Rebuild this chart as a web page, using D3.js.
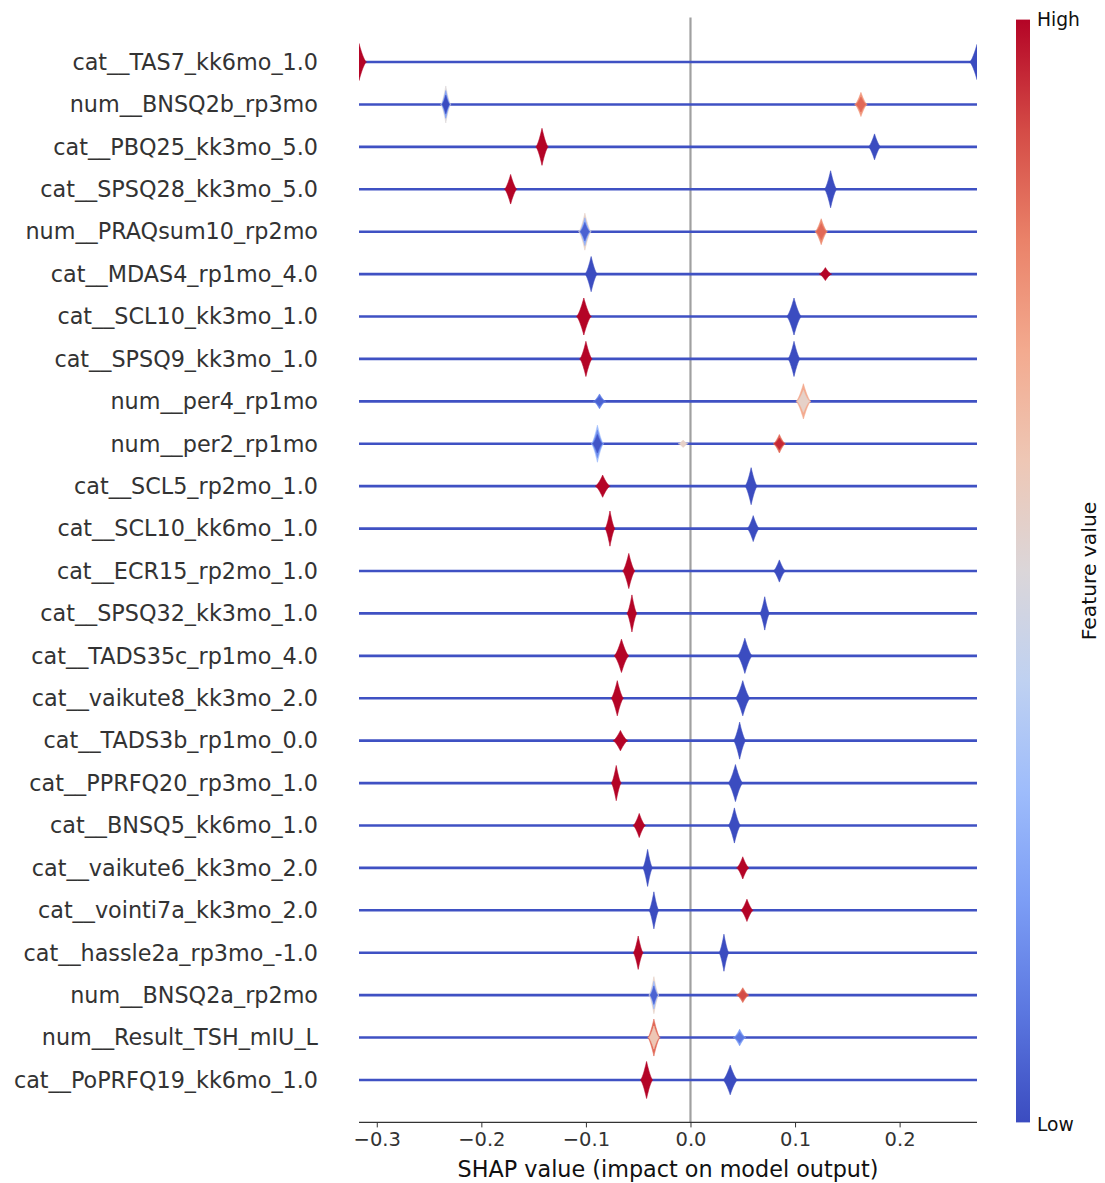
<!DOCTYPE html>
<html>
<head>
<meta charset="utf-8">
<script src="https://cdn.jsdelivr.net/npm/d3@7"></script>
<style>
  body { margin: 0; background: #fff; }
  text { font-family: "DejaVu Sans", sans-serif; }
</style>
</head>
<body>
<div id="chart"></div>
<script>
// feature names, top to bottom
var features = [
    "cat__TAS7_kk6mo_1.0", "num__BNSQ2b_rp3mo", "cat__PBQ25_kk3mo_5.0", "cat__SPSQ28_kk3mo_5.0",
    "num__PRAQsum10_rp2mo", "cat__MDAS4_rp1mo_4.0", "cat__SCL10_kk3mo_1.0", "cat__SPSQ9_kk3mo_1.0",
    "num__per4_rp1mo", "num__per2_rp1mo", "cat__SCL5_rp2mo_1.0", "cat__SCL10_kk6mo_1.0",
    "cat__ECR15_rp2mo_1.0", "cat__SPSQ32_kk3mo_1.0", "cat__TADS35c_rp1mo_4.0", "cat__vaikute8_kk3mo_2.0",
    "cat__TADS3b_rp1mo_0.0", "cat__PPRFQ20_rp3mo_1.0", "cat__BNSQ5_kk6mo_1.0", "cat__vaikute6_kk3mo_2.0",
    "cat__vointi7a_kk3mo_2.0", "cat__hassle2a_rp3mo_-1.0", "num__BNSQ2a_rp2mo", "num__Result_TSH_mIU_L",
    "cat__PoPRFQ19_kk6mo_1.0"
];

// per feature: [shap centre, shap spread, relative density, feature values outer -> inner]
var violins = [
    [[-0.317, 0.006, 1.0, [1]], [0.274, 0.006, 0.95, [0]]],
    [[-0.234, 0.004, 1.0, [0.5, 0.2, 0.0]], [0.163, 0.005, 0.65, [0.75, 0.85]]],
    [[-0.142, 0.005, 1.0, [1]], [0.176, 0.005, 0.7, [0]]],
    [[-0.172, 0.005, 0.8, [1]], [0.134, 0.005, 1.0, [0]]],
    [[-0.101, 0.005, 1.0, [0.55, 0.25, 0.05]], [0.125, 0.005, 0.7, [0.78, 0.85]]],
    [[-0.095, 0.005, 0.95, [0]], [0.129, 0.005, 0.35, [1]]],
    [[-0.102, 0.006, 1.0, [1]], [0.099, 0.006, 1.0, [0]]],
    [[-0.100, 0.005, 0.95, [1]], [0.099, 0.005, 0.95, [0]]],
    [[-0.087, 0.005, 0.4, [0.12, 0.05]], [0.108, 0.006, 0.95, [0.7, 0.55]]],
    [[-0.089, 0.005, 1.0, [0.3, 0.15, 0.02]], [-0.007, 0.004, 0.2, [0.55]], [0.085, 0.005, 0.5, [0.85, 0.95]]],
    [[-0.084, 0.006, 0.6, [1]], [0.058, 0.005, 1.0, [0]]],
    [[-0.077, 0.004, 0.95, [1]], [0.060, 0.005, 0.7, [0]]],
    [[-0.059, 0.005, 0.95, [1]], [0.085, 0.005, 0.6, [0]]],
    [[-0.056, 0.004, 1.0, [1]], [0.071, 0.004, 0.9, [0]]],
    [[-0.066, 0.006, 0.9, [1]], [0.052, 0.006, 0.95, [0]]],
    [[-0.070, 0.005, 0.95, [1]], [0.050, 0.006, 0.95, [0]]],
    [[-0.067, 0.006, 0.55, [1]], [0.047, 0.005, 1.0, [0]]],
    [[-0.071, 0.004, 0.95, [1]], [0.043, 0.006, 1.0, [0]]],
    [[-0.049, 0.005, 0.65, [1]], [0.042, 0.005, 0.95, [0]]],
    [[-0.041, 0.004, 1.0, [0]], [0.050, 0.005, 0.6, [1]]],
    [[-0.035, 0.004, 1.0, [0]], [0.054, 0.005, 0.6, [1]]],
    [[-0.050, 0.004, 0.9, [1]], [0.032, 0.004, 1.0, [0]]],
    [[-0.035, 0.004, 1.0, [0.55, 0.3, 0.05]], [0.050, 0.005, 0.4, [0.85, 0.9]]],
    [[-0.035, 0.005, 1.0, [0.85, 0.6]], [0.047, 0.005, 0.45, [0.2, 0.1]]],
    [[-0.042, 0.005, 1.0, [1]], [0.038, 0.006, 0.8, [0]]]
];

var xDomain = [-0.317, 0.274];
var xTicks = [-0.3, -0.2, -0.1, 0.0, 0.1, 0.2];

function init() {
    var width = 1105;
    var height = 1183;
    var left = 359, right = 977, top = 19.6, bottom = 1122.4;

    // coolwarm-like ramp
    var coolwarm = d3.interpolateRgbBasis(["#3b4cc0", "#6282ea", "#8db0fe", "#b8d0f9", "#dddcdc",
        "#f5c4ac", "#f49a7b", "#de604d", "#b40426"]);

    var svg = d3.select("#chart").append("svg")
        .attr("width", width)
        .attr("height", height);

    var x = d3.scaleLinear().domain(xDomain).range([left, right]);
    // rows placed like matplotlib: ylim -1..n
    var y = d3.scaleLinear().domain([-1, features.length]).range([bottom, top]);
    var rowY = function (i) { return y(features.length - 1 - i); };

    svg.append("defs").append("clipPath").attr("id", "plotclip")
        .append("rect").attr("x", left).attr("y", top)
        .attr("width", right - left).attr("height", bottom - top);

    // zero line
    svg.append("line")
        .attr("x1", x(0)).attr("x2", x(0))
        .attr("y1", top - 2).attr("y2", bottom)
        .attr("stroke", "#a0a0a0").attr("stroke-width", 2.2);

    var plot = svg.append("g").attr("clip-path", "url(#plotclip)");

    // thin full-range band per feature
    plot.selectAll(".band")
        .data(features)
        .enter().append("line")
        .attr("class", "band")
        .attr("x1", left).attr("x2", right)
        .attr("y1", function (d, i) { return rowY(i); })
        .attr("y2", function (d, i) { return rowY(i); })
        .attr("stroke", "#3f51c3").attr("stroke-width", 2.6);

    var maxH = 18.5;
    var ts = d3.range(-1, 1.0001, 0.05);
    function profile(t) { return Math.pow(1 - Math.abs(t), 1.5); }

    violins.forEach(function (row, i) {
        var cy = rowY(i);
        row.forEach(function (v) {
            var layers = v[3];
            layers.forEach(function (f, k) {
                var scale = 1 - k / layers.length * 0.75;
                var area = d3.area()
                    .x(function (t) { return x(v[0] + t * v[1] * 1.2 * (0.6 + 0.4 * scale)); })
                    .y0(function (t) { return cy - maxH * v[2] * scale * profile(t); })
                    .y1(function (t) { return cy + maxH * v[2] * scale * profile(t); })
                    .curve(d3.curveLinear);
                plot.append("path")
                    .attr("d", area(ts))
                    .attr("fill", coolwarm(f))
                    .attr("stroke", coolwarm(f))
                    .attr("stroke-width", 0.6);
            });
        });
    });

    // feature labels
    svg.selectAll(".flabel")
        .data(features)
        .enter().append("text")
        .attr("class", "flabel")
        .attr("x", 318)
        .attr("y", function (d, i) { return rowY(i); })
        .attr("dy", "0.35em")
        .attr("text-anchor", "end")
        .attr("font-size", 22.3)
        .attr("fill", "#333")
        .text(function (d) { return d; });

    // x axis
    var axis = svg.append("g")
        .attr("transform", "translate(0," + bottom + ")")
        .call(d3.axisBottom(x).tickValues(xTicks).tickSize(5).tickPadding(5)
            .tickFormat(function (d) { return d3.format(".1f")(d).replace("-", "\u2212"); }));
    axis.select(".domain").attr("stroke", "#333").attr("stroke-width", 1.2)
        .attr("d", "M" + left + ",0H" + right);
    axis.selectAll(".tick line").attr("stroke", "#333");
    axis.selectAll(".tick text")
        .attr("font-size", 19.5)
        .attr("fill", "#333")
        .style("font-family", "DejaVu Sans, sans-serif");

    svg.append("text")
        .attr("x", (left + right) / 2)
        .attr("y", 1177)
        .attr("text-anchor", "middle")
        .attr("font-size", 22.3)
        .attr("fill", "#111")
        .text("SHAP value (impact on model output)");

    // colour bar
    var grad = svg.select("defs").append("linearGradient")
        .attr("id", "cbar").attr("x1", 0).attr("x2", 0).attr("y1", 1).attr("y2", 0);
    d3.range(0, 1.0001, 0.1).forEach(function (s) {
        grad.append("stop").attr("offset", s).attr("stop-color", coolwarm(s));
    });
    svg.append("rect")
        .attr("x", 1016).attr("y", top)
        .attr("width", 14).attr("height", bottom - top)
        .attr("fill", "url(#cbar)");

    svg.append("text").attr("x", 1037).attr("y", 26)
        .attr("font-size", 18.7).attr("fill", "#111").text("High");
    svg.append("text").attr("x", 1037).attr("y", 1131)
        .attr("font-size", 18.7).attr("fill", "#111").text("Low");
    svg.append("text")
        .attr("transform", "translate(1096," + ((top + bottom) / 2) + ") rotate(-90)")
        .attr("text-anchor", "middle")
        .attr("font-size", 20.3).attr("fill", "#111")
        .text("Feature value");
}

window.onload = init;
</script>
</body>
</html>
